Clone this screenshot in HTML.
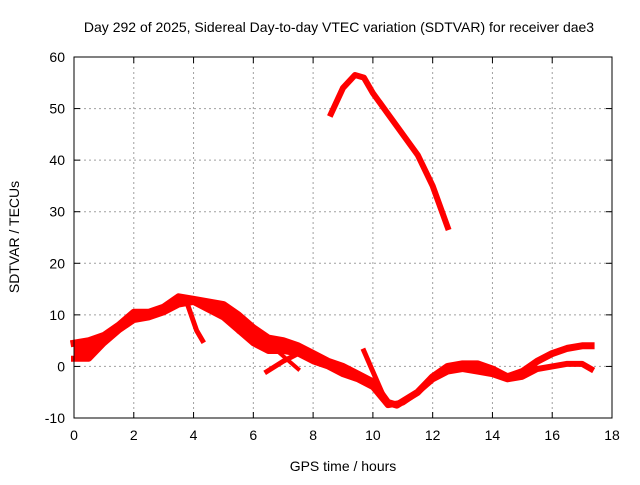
<!DOCTYPE html>
<html><head><meta charset="utf-8"><style>
body{margin:0;background:#fff;width:640px;height:480px;overflow:hidden}
text{font-family:"Liberation Sans",sans-serif;font-size:14px;fill:#000}
</style></head><body>
<svg id="chart" width="640" height="480" xmlns="http://www.w3.org/2000/svg">
<rect width="640" height="480" fill="#fff"/>
<g id="grid"></g>
<g id="series"></g>
<g id="axes"></g>
<text x="339" y="32" text-anchor="middle">Day 292 of 2025, Sidereal Day-to-day VTEC variation (SDTVAR) for receiver dae3</text>
<text x="343" y="471" text-anchor="middle">GPS time / hours</text>
<text transform="translate(19,237) rotate(-90)" text-anchor="middle">SDTVAR / TECUs</text>
</svg>
<script>
const xTicks=[0,2,4,6,8,10,12,14,16,18];
const yTicks=[-10,0,10,20,30,40,50,60];
const upperBand=[[0,4.5],[0.5,5],[1,6],[1.5,8],[2,10.5],[2.5,10.5],[3,11.5],[3.5,13.5],[4,13],[4.5,12.5],[5,12],[5.5,10],[6,7.5],[6.5,5.5],[7,5],[7.5,4],[8,2.5],[8.5,1],[9,0],[9.5,-1.5],[10,-3],[10.5,-7],[10.8,-7.5],[11.5,-5],[12,-2],[12.5,0],[13,0.5],[13.5,0.5],[14,-0.5],[14.5,-2],[15,-1],[15.5,1],[16,2.5],[16.5,3.5],[17,4],[17.3,4]];
const lowerBand=[[0,1.5],[0.5,1.5],[1,4.5],[1.5,7],[2,9],[2.5,9.5],[3,10.5],[3.5,12],[4,12.5],[4.5,11],[5,9.5],[5.5,7],[6,4.5],[6.5,3],[7,3],[7.5,2.5],[8,1],[8.5,0],[9,-1.5],[9.5,-2.5],[10,-4],[10.5,-7.5],[11,-7],[11.5,-5],[12,-2.5],[12.5,-1],[13,-0.5],[13.5,-1],[14,-1.5],[14.5,-2.5],[15,-2],[15.5,-0.5],[16,0],[16.5,0.5],[17,0.5],[17.3,-0.5]];
const branchA=[[3.8,12],[4.1,7],[4.3,5]];
const branchB=[[5.2,11],[5.5,7]];
const branchC=[[6.45,-1],[7,1],[7.5,2.5]];
const branchD=[[6.8,3],[7.5,-0.5]];
const spike=[[9.7,3],[10.3,-5]];
const arc=[[8.6,49],[9,54],[9.4,56.5],[9.7,56],[10,53],[10.5,49],[11,45],[11.5,41],[12,35],[12.5,27]];
const FILL_END_HOUR=15.5;
const X0=74,X1=612,Y0=418,Y1=57;
const xs=h=>X0+(h-0)/(18-0)*(X1-X0);
const ys=v=>Y0-(v+10)/(70)*(Y0-Y1);
const NS="http://www.w3.org/2000/svg";
function mk(p,t,a){const e=document.createElementNS(NS,t);for(const k in a)e.setAttribute(k,a[k]);p.appendChild(e);return e;}
const grid=document.getElementById('grid'),axes=document.getElementById('axes'),ser=document.getElementById('series');
xTicks.forEach(t=>{const x=xs(t);
 if(t>0&&t<18){const g=mk(grid,'line',{x1:x,x2:x,y1:Y1,y2:Y0,stroke:'#a0a0a0','stroke-dasharray':'2,3'});
 
 }
 mk(axes,'line',{x1:x,x2:x,y1:Y0,y2:Y0-6,stroke:'#000'});mk(axes,'line',{x1:x,x2:x,y1:Y1,y2:Y1+6,stroke:'#000'});
 const tx=mk(axes,'text',{x:x,y:Y0+22,'text-anchor':'middle'});tx.textContent=t;
 
 });
yTicks.forEach(t=>{const y=ys(t);
 if(t>-10&&t<60){const g=mk(grid,'line',{x1:X0,x2:X1,y1:y,y2:y,stroke:'#a0a0a0','stroke-dasharray':'2,3'});
 
 }
 mk(axes,'line',{x1:X0,x2:X0+6,y1:y,y2:y,stroke:'#000'});mk(axes,'line',{x1:X1,x2:X1-6,y1:y,y2:y,stroke:'#000'});
 const tx=mk(axes,'text',{x:X0-9,y:y+5,'text-anchor':'end'});tx.textContent=t;
 
 });
mk(axes,'rect',{x:X0,y:Y1,width:X1-X0,height:Y0-Y1,fill:'none',stroke:'#000'});
const all=[['upper-band',upperBand,7],['lower-band',lowerBand,6],['branch-a',branchA,5],['branch-b',branchB,5],['branch-c',branchC,5],['branch-d',branchD,4],['spike',spike,5],['arc',arc,6]];
all.forEach(([n,d,w])=>{const pl=mk(ser,'polyline',{points:d.map(p=>xs(p[0])+','+ys(p[1])).join(' '),fill:'none',stroke:'#ff0000','stroke-width':w,'stroke-linejoin':'round','stroke-linecap':'square'});
 
 });
const up=upperBand.filter(p=>p[0]<=FILL_END_HOUR),lo=lowerBand.filter(p=>p[0]<=FILL_END_HOUR);
const poly=up.map(p=>xs(p[0])+','+ys(p[1])).concat(lo.slice().reverse().map(p=>xs(p[0])+','+ys(p[1])));
const f=mk(ser,'polygon',{points:poly.join(' '),fill:'#ff0000'});


</script>
</body></html>
